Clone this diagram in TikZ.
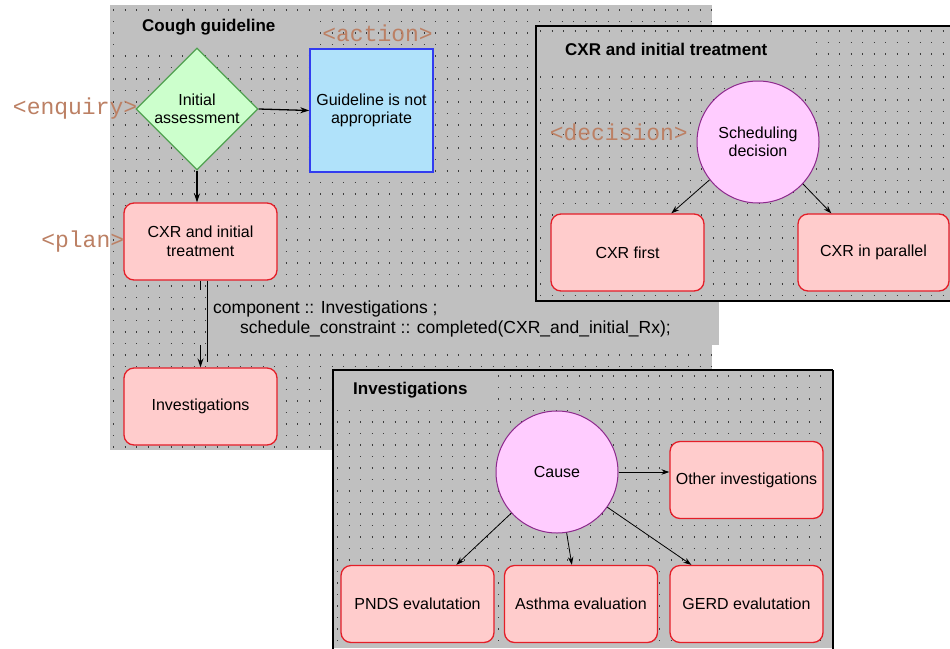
\documentclass[tikz,border=0pt]{standalone}
\usepackage{fontspec}
\setmainfont{Liberation Sans}
\newfontfamily\lblfont{Liberation Mono}
\usetikzlibrary{arrows.meta,shapes.geometric}
\definecolor{panelgray}{RGB}{192,192,192}
\definecolor{dotc}{RGB}{60,60,60}
\definecolor{planfill}{RGB}{255,204,204}
\definecolor{planborder}{RGB}{228,30,40}
\definecolor{actfill}{RGB}{176,226,250}
\definecolor{actborder}{RGB}{50,60,240}
\definecolor{enqfill}{RGB}{204,255,204}
\definecolor{enqborder}{RGB}{80,160,80}
\definecolor{decfill}{RGB}{255,204,255}
\definecolor{decborder}{RGB}{140,40,140}
\definecolor{lblc}{RGB}{188,128,100}
\tikzset{
  dotline/.style={dotc, line width=1.3pt, dash pattern=on 1.3pt off 10.2pt},
  nodefont/.style={font=\fontsize{16}{18.5}\selectfont},
  plannode/.style={nodefont, draw=planborder, fill=planfill, line width=1.3pt, rounded corners=10pt,
    minimum width=153pt, minimum height=77pt, align=center, inner sep=0pt},
  actnode/.style={nodefont, draw=actborder, fill=actfill, line width=1.5pt,
    minimum width=123pt, minimum height=123pt, align=center, inner sep=0pt},
  enqnode/.style={nodefont, diamond, draw=enqborder, fill=enqfill, line width=1.2pt,
    minimum width=122pt, minimum height=122pt, align=center, inner sep=0pt},
  decnode/.style={nodefont, circle, draw=decborder, fill=decfill, line width=1pt,
    minimum size=122pt, align=center, inner sep=0pt},
  typelbl/.style={lblc, font=\lblfont\fontsize{23}{25}\selectfont, inner sep=0pt},
  titletext/.style={font=\bfseries\fontsize{17}{20}\selectfont, inner sep=0pt, anchor=west},
  link/.style={line width=1.3pt, black},
  arr/.style={link, -{Stealth[length=9pt,width=6pt]}},
  thinarr/.style={line width=0.8pt, black, -{Stealth[length=8pt,width=5.5pt]}},
  commentfont/.style={font=\fontsize{17.5}{20}\selectfont, inner sep=0pt, anchor=west},
}
\begin{document}
\begin{tikzpicture}[x=1pt,y=-1pt]
\useasboundingbox (0,0) rectangle (950,648);
\fill[white] (0,0) rectangle (950,648);

% ---------- Cough guideline panel ----------
\fill[panelgray] (110,5) rectangle (712,450);
\foreach \y in {10,21.5,...,449} \draw[dotline] (113,\y) -- (712,\y);
\fill[panelgray] (116,13) rectangle (315,47);
\node[titletext] (coughtitle) at (142,27) {Cough guideline};

\fill[panelgray] (210,293) rectangle (719,345);
\node[commentfont] (cm1) at (213,309) {component :: Investigations ;};
\node[commentfont] (cm2) at (240,329) {schedule\_constraint :: completed(CXR\_and\_initial\_Rx);};

\node[enqnode] (enq) at (197,109) {Initial\\assessment};
\node[actnode] (act) at (371.5,110.5) {Guideline is not\\appropriate};
\node[plannode] (cxr) at (200.5,241.5) {CXR and initial\\treatment};
\node[plannode] (inv) at (200.5,406.5) {Investigations};

\node[typelbl, anchor=east] (lenq) at ([xshift=2pt]enq.west) {<enquiry>};
\node[typelbl, anchor=east] (lact) at (433,33) {<action>};
\node[typelbl, anchor=east] (lplan) at ([xshift=1pt]cxr.west) {<plan>};

\draw[arr] (enq.east) -- (act.west);
\draw[arr] (enq.south) -- (enq.south |- cxr.north);
\draw[link] (cxr.south) -- ([yshift=-9pt]cxr.south);
\draw[arr] ([yshift=22pt]inv.north) -- (inv.north);
\draw[link] ([xshift=7pt]cxr.south) -- ([xshift=7pt,yshift=5pt]inv.north);

% ---------- CXR and initial treatment panel ----------
\fill[panelgray] (536,26) rectangle (952,301);
\foreach \y in {31,42.5,...,299} \draw[dotline] (540,\y) -- (952,\y);
\fill[panelgray] (538,33) rectangle (810,67);
\draw[line width=2pt] (536,26) rectangle (955,301);
\node[titletext] (cxrtitle) at (565,49) {CXR and initial treatment};

\node[decnode] (sched) at (758,142) {Scheduling\\decision};
\node[plannode] (cxrfirst) at (627.5,252.5) {CXR first};
\node[plannode, minimum width=151pt] (cxrpar) at (873.5,252.5) {CXR in parallel};
\node[typelbl, anchor=east] (ldec) at (688,132) {<decision>};

\draw[thinarr] (sched.218) -- ([xshift=121pt]cxrfirst.north west);
\draw[thinarr] (sched.317) -- ([xshift=34pt]cxrpar.north west);

% ---------- Investigations panel ----------
\fill[panelgray] (333,370) rectangle (833,648);
\foreach \y in {376,387.5,...,647} \draw[dotline] (337,\y) -- (831,\y);
\fill[panelgray] (335,372) rectangle (498,405);
\draw[line width=2pt] (333,652) -- (333,370) -- (833,370);
\draw[line width=1.3pt] (833,370) -- (833,652);
\node[titletext] (invtitle) at (353,390) {Investigations};

\node[decnode] (cause) at (557,472) {Cause};
\node[plannode] (other) at (746.5,480) {Other investigations};
\node[plannode] (pnds) at (417.5,604) {PNDS evalutation};
\node[plannode] (asthma) at (581,604) {Asthma evaluation};
\node[plannode] (gerd) at (746.5,604) {GERD evalutation};

\draw[thinarr] (cause.east) -- (cause.east -| other.west);
\draw[thinarr] (cause.222) -- ([xshift=116pt]pnds.north west);
\draw[thinarr] (cause.279) -- ([xshift=68pt]asthma.north west);
\draw[thinarr] (cause.325) -- ([xshift=22pt]gerd.north west);
\end{tikzpicture}
\end{document}
